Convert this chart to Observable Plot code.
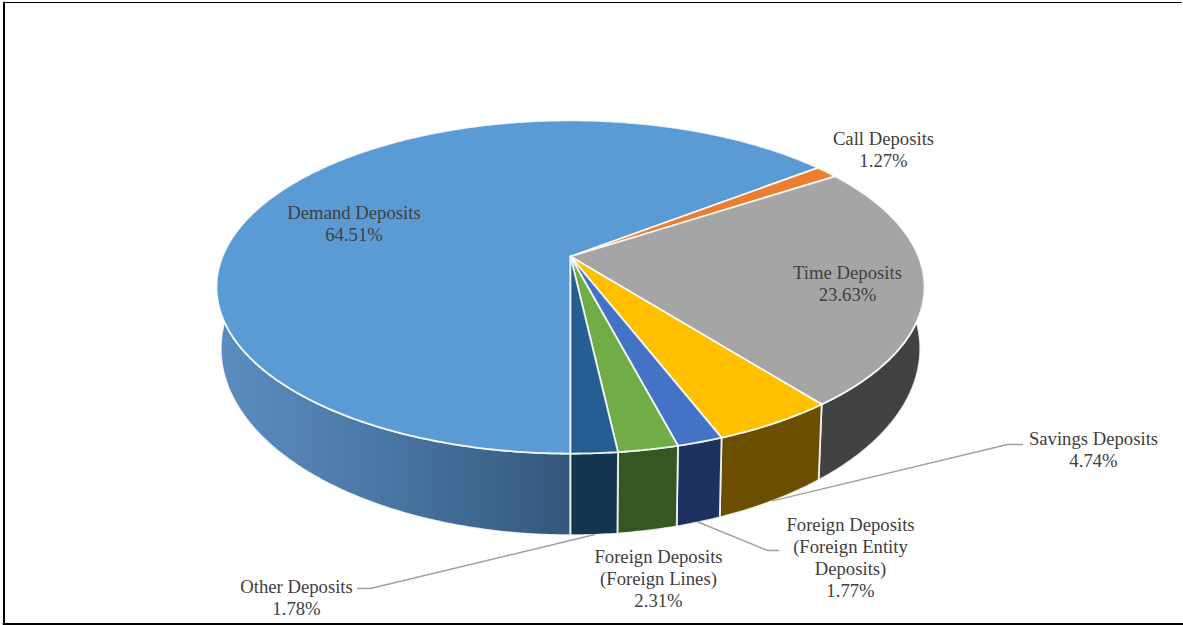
<!DOCTYPE html>
<html>
<head>
<meta charset="utf-8">
<script src="https://cdn.jsdelivr.net/npm/d3@7"></script>
<script src="https://cdn.jsdelivr.net/npm/@observablehq/plot@0.6"></script>
<style>
  html, body { margin: 0; padding: 0; background: #fff; }
  svg { display: block; }
</style>
</head>
<body>
<div id="chart"></div>
<script>
// Deposit mix, in the order the slices run clockwise from the front of the pie.
const categories = [
  "Demand Deposits",
  "Call Deposits",
  "Time Deposits",
  "Savings Deposits",
  "Foreign Deposits\n(Foreign Entity\nDeposits)",
  "Foreign Deposits\n(Foreign Lines)",
  "Other Deposits"
];
const shares = [64.51, 1.27, 23.63, 4.74, 1.77, 2.31, 1.78];

// Slice colours: top face and side wall.
const topColors = ["#5b9bd5", "#ed7d31", "#a5a5a5", "#ffc000", "#4472c4", "#70ad47", "#255e91"];
const sideColors = ["url(#demandWall)", "#7a4014", "#424242", "#6b4e00", "#1e3261", "#365622", "#143450"];

// Label block centres, plus the elbow where a leader line leaves its label.
const labelX = [353.5, 883, 847, 1093, 850, 658, 296];
const labelY = [222.5, 148.5, 282.5, 448.5, 556.5, 577.5, 596.5];
const leaderStart = [null, null, null, [1022, 444, 1007], [778, 550, 767], null, [357, 588, 370]];

// Perspective view of the disc: a circle seen through a homography.
const view = {cx: 570, cy: 256, a: 348, b: 161, k: 0.183};
const floor = {cx: 570, cy: 314, a: 348 * 0.988, b: 161 * 1.12, k: 0.183};
const project = (disc, t) => {
  const u = -Math.sin(t), v = Math.cos(t), w = 1 - disc.k * v;
  return {x: disc.cx + disc.a * u / w, y: disc.cy + disc.b * v / w};
};

const total = d3.sum(shares);
const cumulative = [0, ...d3.cumsum(shares)];
const angle = (s) => (s / total) * 2 * Math.PI;
const slices = shares.map((share, i) => ({
  i, share, t0: angle(cumulative[i]), t1: angle(cumulative[i + 1])
}));

const arc = (disc, t0, t1) => {
  const n = Math.max(2, Math.ceil((t1 - t0) / 0.01));
  return d3.range(n + 1).map((j) => project(disc, t0 + ((t1 - t0) * j) / n));
};
const topFace = (s) => [{x: view.cx, y: view.cy}, ...arc(view, s.t0, s.t1)];
const sideWall = (s) => [...arc(view, s.t0, s.t1), ...arc(floor, s.t0, s.t1).reverse()];

const leaders = slices.flatMap((s) => {
  const start = leaderStart[s.i];
  if (!start) return [];
  const end = project(floor, (s.t0 + s.t1) / 2);
  return [[{x: start[0], y: start[1]}, {x: start[2], y: start[1]}, end]];
});

const labels = slices.map((s) => ({
  text: `${categories[s.i]}\n${s.share.toFixed(2)}%`,
  x: labelX[s.i],
  y: labelY[s.i]
}));

// Horizontal shading of the large slice's wall.
const wallGradient = () => {
  const defs = d3.create("svg:defs");
  const g = defs.append("linearGradient")
    .attr("id", "demandWall")
    .attr("gradientUnits", "userSpaceOnUse")
    .attr("x1", 218).attr("x2", 570).attr("y1", 0).attr("y2", 0);
  g.append("stop").attr("offset", "0%").attr("stop-color", "#5c8dc0");
  g.append("stop").attr("offset", "45%").attr("stop-color", "#4a78a6");
  g.append("stop").attr("offset", "100%").attr("stop-color", "#34577b");
  return defs.node();
};

const face = (points, fill) => Plot.line(points, {
  x: "x", y: "y", curve: "linear-closed",
  fill, stroke: "#fff", strokeWidth: 1.8, strokeOpacity: 0.85, strokeLinejoin: "round"
});

const chart = Plot.plot({
  width: 1183,
  height: 625,
  margin: 0,
  x: {domain: [0, 1183], range: [0, 1183], axis: null},
  y: {domain: [0, 625], range: [0, 625], axis: null},
  style: {background: "#fff", maxWidth: "none"},
  marks: [
    wallGradient,
    ...slices.map((s) => face(sideWall(s), sideColors[s.i])),
    ...slices.map((s) => face(topFace(s), topColors[s.i])),
    ...leaders.map((pts) => Plot.line(pts, {x: "x", y: "y", stroke: "#a0a0a0", strokeWidth: 1.4})),
    Plot.text(labels, {
      x: "x", y: "y", text: "text",
      fontFamily: "'Liberation Serif', serif",
      fontSize: 18.7,
      lineHeight: 1.176,
      fill: "#404040",
      textAnchor: "middle"
    }),
    // Chart border: open on the right-hand side.
    Plot.line([{x: 1181, y: 2}, {x: 4, y: 2}], {x: "x", y: "y", stroke: "#000", strokeWidth: 1}),
    Plot.line([{x: 3.5, y: 2}, {x: 3.5, y: 624}], {x: "x", y: "y", stroke: "#000", strokeWidth: 2}),
    Plot.line([{x: 3, y: 623.5}, {x: 1183, y: 623.5}], {x: "x", y: "y", stroke: "#000", strokeWidth: 2})
  ]
});
document.getElementById("chart").append(chart);
</script>
</body>
</html>
